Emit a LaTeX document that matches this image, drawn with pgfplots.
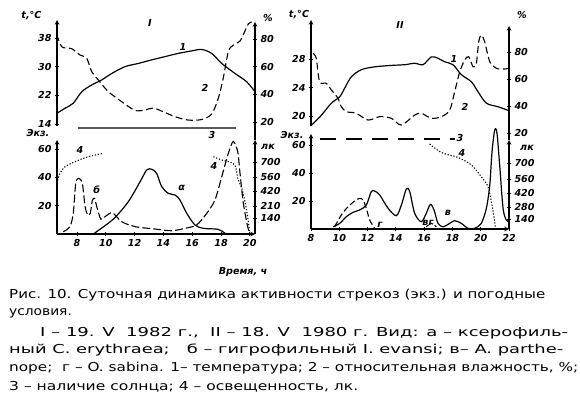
\documentclass[border=0pt]{standalone}
\usepackage{fontspec}
\usepackage{graphicx}
\setmainfont{DejaVu Sans}
\newfontfamily\capfont[FakeStretch=1.12]{DejaVu Sans}
\usepackage{pgfplots}
\pgfplotsset{compat=1.18}
\newcommand\tl{\fontsize{9.6}{11}\selectfont\bfseries\itshape}
\newcommand\capline[2]{\resizebox{#1}{\height}{#2}}
\pgfplotsset{
  base/.style={scale only axis, clip=false, anchor=south west,
    axis line style={line width=1.1pt,-},
    every outer x axis line/.append style={-},
    every outer y axis line/.append style={-},
    every tick/.style={line width=0.9pt,black},
    tick align=outside, major tick length=4pt,
    tick label style={font=\tl},
    /pgf/number format/assume math mode=true},
  pI/.style={base, width=198pt, xmin=6.61, xmax=20.36},
  pII/.style={base, width=198pt, xmin=8, xmax=22},
  noX/.style={axis x line=none, xtick=\empty},
  sol/.style={black, line width=1.2pt, smooth, tension=0.5},
  hum/.style={black, line width=1.1pt, smooth, tension=0.5, dash pattern=on 7pt off 3.5pt},
  dsh/.style={black, line width=1.1pt, smooth, tension=0.45, dash pattern=on 8pt off 3pt},
  lux/.style={black, line width=1.1pt, smooth, tension=0.5, dash pattern=on 1.2pt off 1.8pt},
}
\begin{document}
\begin{tikzpicture}
\useasboundingbox (0pt,0pt) rectangle (580pt,-396pt);
% ================= PANEL I =================
% temperature
\begin{axis}[pI, noX, at={(57pt,-126pt)}, height=106pt,
  ymin=13.44, ymax=43.02, axis y line=left, ytick={14,22,30,38}]
\addplot[sol] coordinates {(6.61,17.0)(7.17,18.4)(7.74,19.8)(8.33,23.0)(9.02,24.9)(9.72,26.3)(10.41,28.1)(11.33,30.0)(12.26,30.9)(13.19,31.9)(14.11,32.8)(15.03,33.7)(15.97,34.4)(16.66,34.8)(17.35,33.7)(18.05,30.9)(18.97,28.1)(19.78,25.8)(20.36,23.0)};
\end{axis}
% humidity + sun
\begin{axis}[pI, noX, at={(57pt,-140pt)}, height=118pt,
  ymin=6.98, ymax=92.3, axis y line=right, ytick={20,40,60,80}]
\addplot[hum] coordinates {(6.59,83.5)(6.94,74.4)(7.63,73.0)(8.21,68.4)(8.67,66.1)(9.02,56.4)(9.48,50.4)(10.17,42.0)(11.10,34.7)(12.03,28.4)(12.72,28.7)(13.30,30.1)(13.99,27.4)(14.81,23.8)(15.73,21.4)(16.66,21.8)(17.35,25.8)(17.81,37.1)(18.16,52.0)(18.51,71.0)(18.85,75.5)(19.32,78.5)(19.67,86.0)(19.90,91.0)(20.13,92.3)};
\addplot[line width=1.8pt, gray!70!black] coordinates {(8.07,15.66)(19.04,15.66)};
\end{axis}
% counts
\begin{axis}[pI, at={(57pt,-234pt)}, height=94pt,
  ymin=0, ymax=66.35, axis x line=bottom, axis y line=left,
  xtick={8,10,...,20}, ytick={20,40,60}]
\addplot[sol] coordinates {(9.13,0)(10.52,10.5)(11.56,22.8)(12.38,36.9)(12.84,45.2)(13.19,45.7)(13.53,42.8)(13.88,33.4)(14.34,28.7)(14.81,27.5)(15.15,24.0)(15.62,14.6)(16.19,6.4)(16.77,4.0)(17.81,3.3)(18.28,0.5)(18.45,0)};
\addplot[dsh] coordinates {(7.05,1.6)(7.51,5.2)(7.74,14.6)(7.91,35.8)(8.12,39.3)(8.37,35.8)(8.56,19.3)(8.75,13.4)(8.92,14.6)(9.06,23.5)(9.22,25.2)(9.37,19.3)(9.65,10.5)(9.94,12.2)(10.45,15.0)(11.10,8.7)(12.03,5.2)(13.42,3.5)(14.58,2.3)(15.50,4.0)(16.31,6.4)(17.01,14.6)(17.58,24.0)(18.05,40.4)(18.51,57.0)(18.85,65.3)(19.16,58.1)(19.32,42.8)(19.55,21.7)(19.85,5.2)(20.01,0)};
\end{axis}
% illuminance
\begin{axis}[pI, noX, at={(57pt,-234pt)}, height=94pt,
  ymin=0, ymax=94, axis y line=right,
  ytick={16,28,43,57,72}, yticklabels={140,210,420,560,700}]
\addplot[lux] coordinates {(6.59,50.7)(6.82,60.7)(7.17,67.3)(7.86,72.3)(8.78,77.3)(9.83,80.7)};
\addplot[lux] coordinates {(17.47,77.3)(18.05,74)(18.51,72.3)(18.97,69)(19.16,56)(19.44,45.7)(19.67,32)(19.85,17.3)(19.97,4)(20.0,0)};
\end{axis}
% ================= PANEL II =================
\begin{axis}[pII, noX, at={(311pt,-126pt)}, height=106pt,
  ymin=18.6, ymax=33.47, axis y line=left, ytick={20,24,28}]
\addplot[sol] coordinates {(8.02,18.7)(8.73,20.1)(9.44,21.8)(10.03,22.7)(10.38,23.9)(10.85,25.5)(11.56,26.5)(12.50,26.9)(13.68,27.1)(14.63,27.2)(15.33,27.4)(15.92,27.2)(16.51,28.3)(16.98,28.1)(17.46,27.6)(18.04,27.2)(18.63,25.8)(19.34,24.8)(19.81,23.4)(20.40,21.8)(21.23,21.3)(21.93,20.8)};
\end{axis}
\begin{axis}[pII, noX, at={(311pt,-140pt)}, height=114pt,
  ymin=14.81, ymax=99.26, axis y line=right, ytick={20,40,60,80}]
\addplot[hum] coordinates {(8.14,79.0)(8.37,75.3)(8.61,58.0)(9.08,56.8)(9.44,51.9)(9.91,45.7)(10.14,39.5)(10.50,35.8)(11.20,34.6)(12.03,29.6)(12.86,32.1)(13.68,30.9)(14.39,25.9)(15.33,33.3)(15.80,34.6)(16.51,30.9)(17.22,32.1)(17.81,37.0)(18.16,50.6)(18.52,65.4)(18.87,74.1)(19.15,76.5)(19.46,69.1)(19.69,71.6)(19.86,87.6)(20.04,92.6)(20.28,87.6)(20.64,72.8)(21.11,67.9)(21.70,67.4)(21.93,67.9)};
\addplot[black, line width=1.1pt, dash pattern=on 16pt off 10pt] coordinates {(8.61,15.56)(18.16,15.56)};
\end{axis}
\begin{axis}[pII, at={(311pt,-229pt)}, height=95pt,
  ymin=0, ymax=67.86, axis x line=bottom, axis y line=left,
  xtick={8,10,...,22}, ytick={20,40,60}]
\addplot[sol] coordinates {(9.56,1.6)(10.03,4.0)(10.50,8.8)(10.97,11.9)(11.44,13.6)(11.91,17.1)(12.26,26.7)(12.50,27.1)(12.86,24.3)(13.45,14.8)(14.03,9.5)(14.39,17.1)(14.74,28.6)(14.98,26.7)(15.33,11.2)(15.80,5.2)(16.15,11.2)(16.44,17.6)(16.70,13.6)(16.98,4.0)(17.34,1.6)(17.69,3.3)(18.16,5.9)(18.63,4.0)(19.10,0.5)(19.58,0.5)(20.04,4.0)(20.40,14.8)(20.64,31.4)(20.80,55.2)(20.99,70.7)(21.15,68.4)(21.34,45.7)(21.58,14.8)(21.81,6.4)(22.0,5.2)};
\addplot[black, line width=1.1pt, smooth, tension=0.5, dash pattern=on 6pt off 3pt] coordinates {(9.68,1.6)(10.14,10)(10.62,15.9)(11.09,20)(11.44,21.9)(11.68,20.7)(11.91,14.8)(12.15,6.4)(12.50,0.5)};
\addplot[black, line width=1.1pt, smooth, tension=0.5, dash pattern=on 3pt off 2pt] coordinates {(16.15,1.6)(16.51,4.0)(16.86,1.6)};
\end{axis}
\begin{axis}[pII, noX, at={(311pt,-229pt)}, height=89pt,
  ymin=0, ymax=89, axis y line=right,
  ytick={10,22,36,50,66}, yticklabels={140,280,420,560,700}]
\addplot[lux] coordinates {(16.39,85)(17.22,76.5)(18.40,71.5)(19.34,64)(20.04,52.3)(20.52,42.3)(20.75,27.3)(20.92,14)(21.05,0)};
\end{axis}
% ================= LABELS =================
\begin{scope}[every node/.style={font=\tl, inner sep=0pt}]
\node at (31.5pt,-16pt) {t,°C};
\node at (150pt,-23pt) {I};
\node at (268pt,-18pt) {\%};
\node at (183pt,-47pt) {1};
\node at (205pt,-88pt) {2};
\node at (212pt,-135pt) {3};
\node at (38pt,-133pt) {Экз.};
\node at (268pt,-147pt) {лк};
\node at (80pt,-150pt) {4};
\node at (96.7pt,-190pt) {б};
\node at (181.7pt,-188pt) {α};
\node at (214pt,-166pt) {4};
\node at (299pt,-15pt) {t,°C};
\node at (400pt,-25pt) {II};
\node at (522pt,-15pt) {\%};
\node at (454pt,-59pt) {1};
\node at (465pt,-107pt) {2};
\node at (292pt,-135pt) {Экз.};
\node at (527pt,-148pt) {лк};
\node at (460pt,-138pt) {3};
\node at (462pt,-153pt) {4};
\node at (380pt,-225pt) {г};
\node at (428pt,-223pt) {вг};
\node at (448pt,-213pt) {в};
\node at (243pt,-272pt) {Время, ч};
\end{scope}
\begin{scope}[every node/.style={anchor=west, inner sep=0pt, font=\capfont\fontsize{12.3}{14}\selectfont}]
\node at (9pt,-295pt) {\capline{536pt}{Рис. 10. Суточная динамика активности стрекоз (экз.) и погодные}};
\node at (9pt,-313pt) {условия.};
\node at (40pt,-333pt) {\capline{528pt}{I – 19. V \ 1982 г., \ II – 18. V \ 1980 г. Вид: а – ксерофиль-}};
\node at (9pt,-350pt) {\capline{554pt}{ный C. erythraea; \ \ б – гигрофильный I. evansi; в– A. parthe-}};
\node at (9pt,-368pt) {\capline{569pt}{nope; \ г – O. sabina. 1– температура; 2 – относительная влажность, \%;}};
\node at (9pt,-387pt) {\capline{349pt}{3 – наличие солнца; 4 – освещенность, лк.}};
\end{scope}
\end{tikzpicture}
\end{document}
